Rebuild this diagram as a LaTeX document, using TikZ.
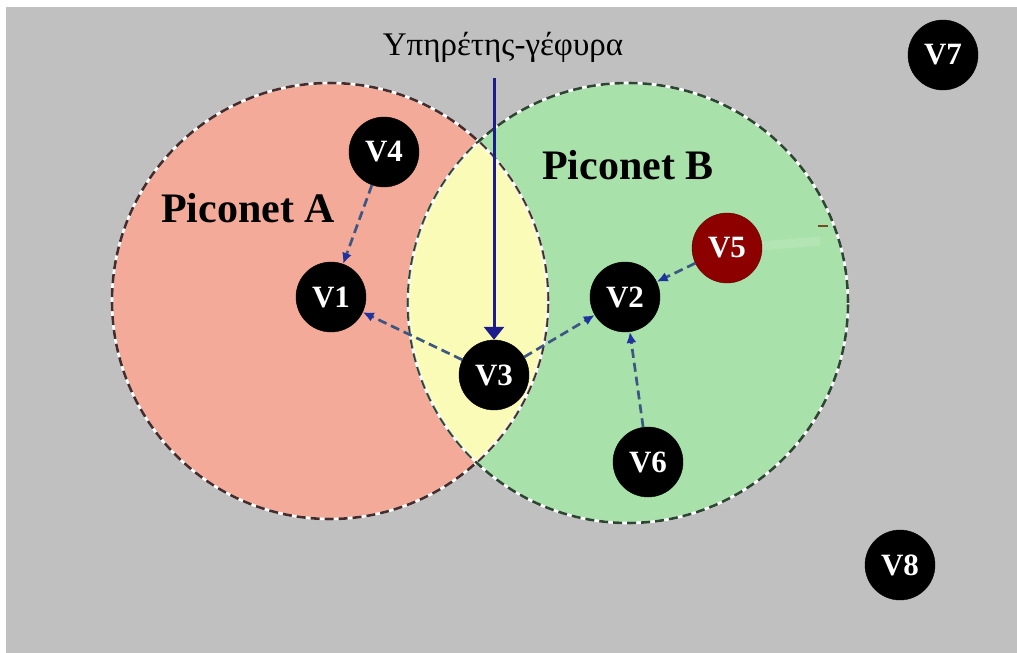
\documentclass[tikz,border=0pt]{standalone}
\usepackage{fontspec}
\setmainfont{Liberation Serif}
\usetikzlibrary{arrows.meta}
\definecolor{bggray}{RGB}{192,192,192}
\definecolor{pinkA}{RGB}{244,170,152}
\definecolor{greenB}{RGB}{168,226,170}
\definecolor{lensY}{RGB}{250,251,182}
\definecolor{edgeA}{RGB}{70,45,45}
\definecolor{edgeB}{RGB}{45,70,50}
\definecolor{linkC}{RGB}{60,88,130}
\definecolor{tipC}{RGB}{30,50,160}
\definecolor{navy}{RGB}{28,28,140}
\definecolor{darkred}{RGB}{140,0,0}
\definecolor{faintG}{RGB}{178,228,180}
\tikzset{
  vnode/.style={circle, fill=black, draw=black, minimum size=70pt, inner sep=0pt,
    text=white, font=\bfseries\fontsize{31}{34}\selectfont},
  piconet/.style={font=\bfseries\fontsize{42}{48}\selectfont, text=black},
  link/.style={draw=linkC, line width=2.7pt, dash pattern=on 9pt off 5pt,
    -{Latex[length=11pt,width=10pt,color=tipC]}, shorten >=0pt},
  whiteedge/.style={draw=white, line width=2.6pt},
  dashA/.style={draw=edgeA, line width=2.6pt, dash pattern=on 9pt off 5pt},
  dashB/.style={draw=edgeB, line width=2.6pt, dash pattern=on 9pt off 5pt},
}
\begin{document}
\begin{tikzpicture}[x=1pt,y=-1pt]
\useasboundingbox (0,0) rectangle (1017,653);
\fill[white] (0,0) rectangle (1017,653);
\fill[bggray] (6,7) rectangle (1017,653);
% piconet areas
\fill[pinkA] (330,301) circle[radius=218pt];
\fill[greenB] (628,303) circle[radius=220pt];
\draw[whiteedge] (330,301) circle[radius=218pt];
\draw[dashA] (330,301) circle[radius=218pt];
\draw[whiteedge] (628,303) circle[radius=220pt];
\draw[dashB] (628,303) circle[radius=220pt];
\begin{scope}
  \clip (330,301) circle[radius=216.7pt];
  \fill[lensY] (628,303) circle[radius=218.7pt];
  \draw[white, opacity=0.6, line width=1.5pt] (628,303) circle[radius=218.7pt];
\end{scope}
\begin{scope}
  \clip (628,303) circle[radius=218.7pt];
  \draw[white, opacity=0.6, line width=1.5pt] (330,301) circle[radius=216.7pt];
\end{scope}
% faint artifact near V5
\draw[faintG, line width=9pt] (760,246) -- (820,241);
\draw[brown!60!black, line width=1.5pt] (818,226) -- (828,226);
% labels
\node[piconet] (pa) at (248,208) {Piconet A};
\node[piconet] (pb) at (628,165) {Piconet B};
\node[font=\fontsize{33}{38}\selectfont] (title) at (503,47) {Υπηρέτης-γέφυρα};
% nodes
\node[vnode] (V4) at (384,152) {V4};
\node[vnode] (V1) at (331,297) {V1};
\node[vnode] (V3) at (494,375) {V3};
\node[vnode] (V2) at (625,297) {V2};
\node[vnode, fill=darkred, draw=darkred!70!black] (V5) at (727,248) {V5};
\node[vnode] (V6) at (648,462) {V6};
\node[vnode] (V7) at (943,55) {V7};
\node[vnode] (V8) at (900,565) {V8};
% connectors
\coordinate (tstart) at (494,78);
\draw[navy, line width=3pt, -{Triangle[length=13pt,width=20pt]}] (tstart) -- (V3.north);
\draw[link] (V4) -- (V1);
\draw[link] (V3) -- (V1);
\draw[link] (V3) -- (V2);
\draw[link] (V5) -- (V2);
\draw[link] (V6) -- (V2);
\end{tikzpicture}
\end{document}
